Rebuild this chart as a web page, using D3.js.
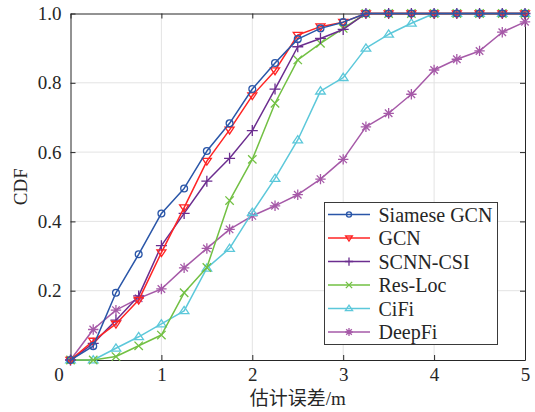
<!DOCTYPE html>
<html>
<head>
<meta charset="utf-8">
<script src="https://cdn.jsdelivr.net/npm/d3@7"></script>
<style>
  html, body { margin: 0; padding: 0; background: #fff; }
  svg { display: block; font-family: "Liberation Serif", "Times New Roman", "Noto Sans CJK SC", serif; }
</style>
</head>
<body>
<svg id="chart" width="535" height="412"></svg>
<script>
// Localization error thresholds (m)
const errors = [0, 0.25, 0.5, 0.75, 1, 1.25, 1.5, 1.75, 2, 2.25, 2.5, 2.75, 3, 3.25, 3.5, 3.75, 4, 4.25, 4.5, 4.75, 5];

// CDF values per method
const siameseGCN = [0, 0.04, 0.194, 0.305, 0.423, 0.495, 0.603, 0.683, 0.782, 0.857, 0.926, 0.957, 0.975, 1, 1, 1, 1, 1, 1, 1, 1];
const gcn        = [0, 0.055, 0.104, 0.173, 0.31, 0.44, 0.574, 0.664, 0.763, 0.835, 0.938, 0.962, 0.975, 1, 1, 1, 1, 1, 1, 1, 1];
const scnnCSI    = [0, 0.048, 0.115, 0.185, 0.33, 0.423, 0.516, 0.582, 0.662, 0.782, 0.904, 0.928, 0.954, 1, 1, 1, 1, 1, 1, 1, 1];
const resLoc     = [0, 0, 0.01, 0.041, 0.072, 0.194, 0.267, 0.46, 0.579, 0.741, 0.866, 0.914, 0.957, 1, 1, 1, 1, 1, 1, 1, 1];
const ciFi       = [0, 0, 0.034, 0.067, 0.104, 0.142, 0.265, 0.322, 0.426, 0.524, 0.635, 0.776, 0.815, 0.9, 0.94, 0.972, 1, 1, 1, 1, 1];
const deepFi     = [0, 0.088, 0.144, 0.178, 0.205, 0.266, 0.322, 0.377, 0.416, 0.445, 0.477, 0.522, 0.579, 0.673, 0.712, 0.767, 0.837, 0.868, 0.892, 0.946, 0.976];

const seriesNames = ["Siamese GCN", "GCN", "SCNN-CSI", "Res-Loc", "CiFi", "DeepFi"];
const xTicks = [0, 1, 2, 3, 4, 5];
const yTicks = [0, 0.2, 0.4, 0.6, 0.8, 1.0];

const series = [
  { name: seriesNames[0], values: siameseGCN, color: "#2a56a8", marker: "circle" },
  { name: seriesNames[1], values: gcn,        color: "#ff2424", marker: "triDown" },
  { name: seriesNames[2], values: scnnCSI,    color: "#6b2d8f", marker: "plus" },
  { name: seriesNames[3], values: resLoc,     color: "#72c043", marker: "cross" },
  { name: seriesNames[4], values: ciFi,       color: "#5cc8da", marker: "triUp" },
  { name: seriesNames[5], values: deepFi,     color: "#a65aa8", marker: "star" }
];

const svg = d3.select("#chart");
const plotL = 70.5, plotR = 525, plotT = 13.5, plotB = 360;

const x = d3.scaleLinear().domain([0, 5]).range([plotL, plotR]);
const y = d3.scaleLinear().domain([0, 1]).range([plotB, plotT]);

// Grid
const grid = svg.append("g");
grid.selectAll("line.gx").data(xTicks.slice(1, -1)).join("line")
  .attr("x1", d => x(d)).attr("x2", d => x(d))
  .attr("y1", plotT).attr("y2", plotB)
  .attr("stroke", "#e3e3e3").attr("stroke-width", 1);
grid.selectAll("line.gy").data(yTicks.slice(1, -1)).join("line")
  .attr("x1", plotL).attr("x2", plotR)
  .attr("y1", d => y(d)).attr("y2", d => y(d))
  .attr("stroke", "#e3e3e3").attr("stroke-width", 1);

// Axes with inward ticks on all four sides
const axisColor = "#262626";
function styleAxis(g) {
  g.select(".domain").attr("stroke", axisColor).attr("stroke-width", 1);
  g.selectAll(".tick line").attr("stroke", axisColor);
  g.selectAll(".tick text").attr("fill", "#262626")
    .style("font-family", '"Liberation Serif", serif').style("font-size", "19px");
}

const xAxis = svg.append("g").attr("transform", `translate(0,${plotB})`)
  .call(d3.axisBottom(x).tickValues(xTicks).tickSizeInner(-5).tickSizeOuter(0).tickPadding(8)
    .tickFormat(d3.format("d")));
styleAxis(xAxis);
xAxis.selectAll(".tick text").attr("dy", "0.7em")
  .attr("dx", d => d === 0 ? -12 : 0);

const yAxis = svg.append("g").attr("transform", `translate(${plotL},0)`)
  .call(d3.axisLeft(y).tickValues(yTicks).tickSizeInner(-5).tickSizeOuter(0).tickPadding(9)
    .tickFormat(d => d === 0 ? "" : d3.format(".1f")(d)));
styleAxis(yAxis);

const xTop = svg.append("g").attr("transform", `translate(0,${plotT})`)
  .call(d3.axisTop(x).tickValues(xTicks).tickSizeInner(-5).tickSizeOuter(0).tickFormat(""));
styleAxis(xTop);
const yRight = svg.append("g").attr("transform", `translate(${plotR},0)`)
  .call(d3.axisRight(y).tickValues(yTicks).tickSizeInner(-5).tickSizeOuter(0).tickFormat(""));
styleAxis(yRight);

// Axis titles
svg.append("text")
  .attr("transform", `translate(27,${(plotT + plotB) / 2}) rotate(-90)`)
  .attr("text-anchor", "middle")
  .style("font-size", "19px").attr("fill", "#262626")
  .text("CDF");
svg.append("text")
  .attr("x", (plotL + plotR) / 2).attr("y", 405)
  .attr("text-anchor", "middle")
  .style("font-size", "19px").attr("fill", "#262626")
  .text("估计误差/m");

// Marker drawing
function drawMarker(g, type, color, s) {
  const sw = 1.3;
  switch (type) {
    case "circle":
      g.append("circle").attr("r", 3.4 * s).attr("fill", "none").attr("stroke", color).attr("stroke-width", sw);
      break;
    case "triDown": {
      const r = 4.5 * s;
      g.append("path").attr("d", `M${-r},${-r * 0.6}L${r},${-r * 0.6}L0,${r * 0.9}Z`)
        .attr("fill", "none").attr("stroke", color).attr("stroke-width", sw);
      break;
    }
    case "triUp": {
      const r = 4.8 * s;
      g.append("path").attr("d", `M${-r},${r * 0.6}L${r},${r * 0.6}L0,${-r * 0.9}Z`)
        .attr("fill", "none").attr("stroke", color).attr("stroke-width", sw);
      break;
    }
    case "plus": {
      const r = 5.5 * s;
      g.append("path").attr("d", `M${-r},0L${r},0M0,${-r}L0,${r}`)
        .attr("stroke", color).attr("stroke-width", sw);
      break;
    }
    case "cross": {
      const r = 4.2 * s;
      g.append("path").attr("d", `M${-r},${-r}L${r},${r}M${-r},${r}L${r},${-r}`)
        .attr("stroke", color).attr("stroke-width", sw);
      break;
    }
    case "star": {
      const r = 5.2 * s, d = r * 0.72;
      g.append("path").attr("d", `M${-r},0L${r},0M0,${-r}L0,${r}M${-d},${-d}L${d},${d}M${-d},${d}L${d},${-d}`)
        .attr("stroke", color).attr("stroke-width", sw);
      break;
    }
  }
}

// Series lines and markers (last series drawn first so the leading methods sit on top)
const line = d3.line().x((d, i) => x(errors[i])).y(d => y(d));
const plot = svg.append("g");
series.slice().reverse().forEach(s => {
  const g = plot.append("g");
  g.append("path").datum(s.values).attr("d", line)
    .attr("fill", "none").attr("stroke", s.color).attr("stroke-width", 1.5)
    .attr("stroke-linejoin", "round");
  s.values.forEach((v, i) => {
    const m = g.append("g").attr("transform", `translate(${x(errors[i])},${y(v)})`);
    drawMarker(m, s.marker, s.color, 1);
  });
});

// Legend
const lg = svg.append("g");
lg.append("rect").attr("x", 324.5).attr("y", 202.5).attr("width", 173).attr("height", 142)
  .attr("fill", "#fff").attr("stroke", "#3a3a3a").attr("stroke-width", 1);
series.forEach((s, i) => {
  const cy = 214.5 + i * 23.5;
  const row = lg.append("g");
  row.append("line").attr("x1", 328).attr("x2", 370).attr("y1", cy).attr("y2", cy)
    .attr("stroke", s.color).attr("stroke-width", 1.5);
  const m = row.append("g").attr("transform", `translate(349,${cy})`);
  drawMarker(m, s.marker, s.color, 0.75);
  row.append("text").attr("x", 378.5).attr("y", cy).attr("dy", "0.35em")
    .style("font-size", "20px").attr("fill", "#262626").text(s.name);
});
</script>
</body>
</html>
